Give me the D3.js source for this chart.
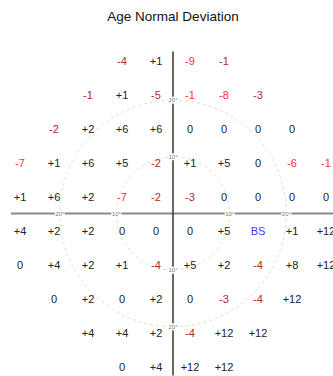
<!DOCTYPE html>
<html>
<head>
<meta charset="utf-8">
<title>Age Normal Deviation</title>
<script src="https://cdn.jsdelivr.net/npm/d3@7"></script>
<style>
  html, body { margin: 0; padding: 0; background: #fff; overflow: hidden; }
  svg { display: block; }
</style>
</head>
<body>
<svg id="chart" width="333" height="376"></svg>
<script>
// Test point rows (degrees of elevation) and the leftmost eccentricity of each row
const rowElevation = [27, 21, 15, 9, 3, -3, -9, -15, -21, -27];
const rowStartX = [-9, -15, -21, -27, -27, -27, -27, -21, -15, -9];
const spacing = 6;

// Total deviation (dB) per test point; "BS" marks the blind spot
const deviations = [
  [-4, 1, -9, -1],
  [-1, 1, -5, -1, -8, -3],
  [-2, 2, 6, 6, 0, 0, 0, 0],
  [-7, 1, 6, 5, -2, 1, 5, 0, -6, -1],
  [1, 6, 2, -7, -2, -3, 0, 0, 0, 0],
  [4, 2, 2, 0, 0, 0, 5, "BS", 1, 12],
  [0, 4, 2, 1, -4, 5, 2, -4, 8, 12],
  [0, 2, 0, 2, 0, -3, -4, 12],
  [4, 4, 2, -4, 12, 12],
  [0, 4, 12, 12]
];

// Probability class per point: 0 = within normal, 1 = mild depression, 2 = marked depression
const probClass = [
  [1, 0, 2, 1],
  [1, 0, 1, 2, 2, 1],
  [1, 0, 0, 0, 0, 0, 0, 0],
  [2, 0, 0, 0, 1, 0, 0, 0, 2, 2],
  [0, 0, 0, 2, 1, 1, 0, 0, 0, 0],
  [0, 0, 0, 0, 0, 0, 0, 0, 0, 0],
  [0, 0, 0, 0, 1, 0, 0, 1, 0, 0],
  [0, 0, 0, 0, 0, 1, 1, 0],
  [0, 0, 0, 1, 0, 0],
  [0, 0, 0, 0]
];

const ringDegrees = [10, 20];
const axisExtent = 28.6;
const title = "Age Normal Deviation";

const classColor = ["#222222", "#b02a2a", "#ff2f2f"];
const blindSpotColor = "#3a3aff";

const svg = d3.select("#chart");
const cx = 173, cy = 213.5, pxPerDeg = 34 / 6;

const x = d3.scaleLinear().domain([-30, 30]).range([cx - 30 * pxPerDeg, cx + 30 * pxPerDeg]);
const y = d3.scaleLinear().domain([-30, 30]).range([cy + 30 * pxPerDeg, cy - 30 * pxPerDeg]);
const r = d3.scaleLinear().domain([0, 30]).range([0, 30 * pxPerDeg]);

// Title
svg.append("text")
  .attr("x", cx).attr("y", 21)
  .attr("text-anchor", "middle")
  .attr("font-family", "Liberation Sans, Arial, sans-serif")
  .attr("font-size", 13.5)
  .attr("fill", "#111")
  .text(title);

// Eccentricity rings
svg.append("g").selectAll("circle")
  .data(ringDegrees)
  .join("circle")
  .attr("cx", x(0)).attr("cy", y(0))
  .attr("r", d => r(d))
  .attr("fill", "none")
  .attr("stroke", "#ead9c6")
  .attr("stroke-width", 1)
  .attr("stroke-dasharray", "3,3");

// Meridians
svg.append("line")
  .attr("x1", x(-axisExtent)).attr("x2", x(axisExtent))
  .attr("y1", y(0)).attr("y2", y(0))
  .attr("stroke", "#8a8a8a").attr("stroke-width", 1.8);
svg.append("line")
  .attr("x1", x(0)).attr("x2", x(0))
  .attr("y1", y(axisExtent)).attr("y2", y(-axisExtent))
  .attr("stroke", "#3a3428").attr("stroke-width", 1.5);

// Ring labels where the rings cross the meridians
const ringLabels = [];
ringDegrees.forEach(d => {
  ringLabels.push({ px: x(0), py: y(d), t: d + "°" });
  ringLabels.push({ px: x(0), py: y(-d), t: d + "°" });
  ringLabels.push({ px: x(-d), py: y(0), t: d + "°" });
  ringLabels.push({ px: x(d), py: y(0), t: d + "°" });
});
const rl = svg.append("g").selectAll("g").data(ringLabels).join("g")
  .attr("transform", d => `translate(${d.px},${d.py})`);
rl.append("rect")
  .attr("x", -5).attr("y", -3.5).attr("width", 10).attr("height", 7)
  .attr("fill", "#fff");
rl.append("text")
  .attr("text-anchor", "middle")
  .attr("dominant-baseline", "central")
  .attr("font-family", "Liberation Sans, Arial, sans-serif")
  .attr("font-size", 6)
  .attr("fill", "#777")
  .text(d => d.t);

// Test point values
const points = [];
deviations.forEach((row, i) => {
  row.forEach((v, j) => {
    points.push({
      ex: rowStartX[i] + j * spacing,
      ey: rowElevation[i],
      v: v,
      c: probClass[i][j]
    });
  });
});

const fmt = v => (v === "BS" ? "BS" : v > 0 ? "+" + v : String(v));

svg.append("g").selectAll("text")
  .data(points)
  .join("text")
  .attr("x", d => x(d.ex))
  .attr("y", d => y(d.ey))
  .attr("text-anchor", "middle")
  .attr("dominant-baseline", "central")
  .attr("font-family", "Liberation Sans, Arial, sans-serif")
  .attr("font-size", 11)
  .attr("fill", d => d.v === "BS" ? blindSpotColor : classColor[d.c])
  .text(d => fmt(d.v));
</script>
</body>
</html>
